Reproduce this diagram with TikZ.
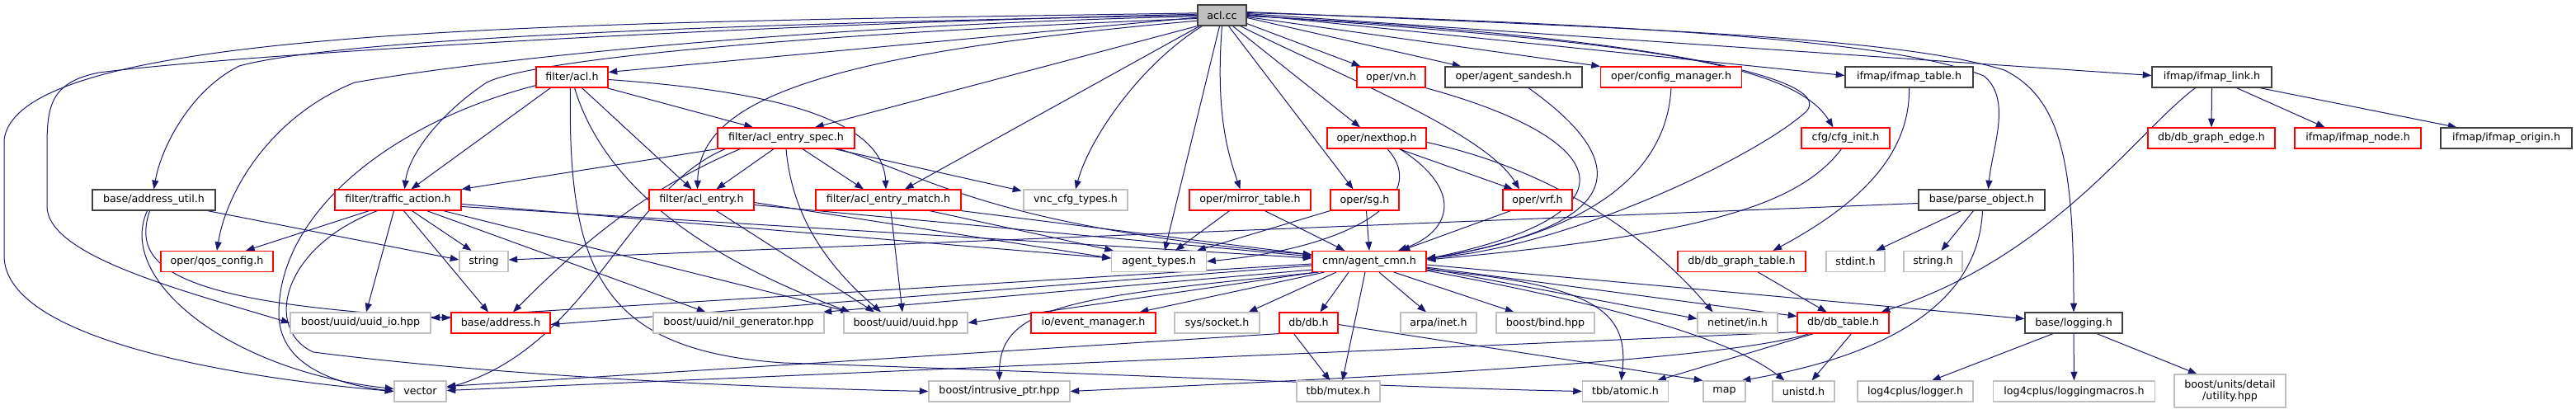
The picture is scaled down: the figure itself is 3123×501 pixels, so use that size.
\documentclass[tikz,border=0pt]{standalone}
\usepackage{fontspec}
\setmainfont{DejaVu Sans}
\usetikzlibrary{arrows.meta,calc}
\definecolor{edgec}{HTML}{191970}
\definecolor{nred}{HTML}{FF0000}
\definecolor{ngray}{HTML}{BFBFBF}
\definecolor{nblack}{HTML}{404040}
\pgfdeclarelayer{bgl}
\pgfdeclarelayer{edges}
\pgfsetlayers{bgl,edges,main}
\tikzset{
 box/.style={draw, rectangle, inner sep=0pt, minimum height=18.75pt, line width=0.9pt, fill=white, font=\fontsize{9.5}{11}\selectfont},
 rbox/.style={box, draw=nred},
 gbox/.style={box, draw=ngray},
 kbox/.style={box, draw=nblack},
 bw/.style={minimum width=#1*0.75pt},
 edg/.style={draw=edgec, line width=0.75pt, -{Triangle[length=8pt,width=6pt]}},
}
\begin{document}
\begin{tikzpicture}[x=0.75pt,y=-0.75pt]
\useasboundingbox (0,0) rectangle (3123,501);
\begin{pgfonlayer}{bgl}
\fill[white] (0,0) rectangle (3123,501);
\end{pgfonlayer}
% row 0
\node[kbox,fill=ngray,bw=59] (acl) at (1481.5,18.5) {acl.cc};
% row 1
\node[rbox,bw=87] (aclh) at (693.5,93.5) {filter/acl.h};
\node[rbox,bw=83] (vn) at (1686.5,93.5) {oper/vn.h};
\node[kbox,bw=166] (sand) at (1835,93.5) {oper/agent\_sandesh.h};
\node[rbox,bw=171] (cfgm) at (2026,93.5) {oper/config\_manager.h};
\node[kbox,bw=155] (ift) at (2314.5,93.5) {ifmap/ifmap\_table.h};
\node[kbox,bw=145] (ifl) at (2681.5,93.5) {ifmap/ifmap\_link.h};
% row 2
\node[rbox,bw=166] (spec) at (953,167.5) {filter/acl\_entry\_spec.h};
\node[rbox,bw=120] (nh) at (1669,167.5) {oper/nexthop.h};
\node[rbox,bw=107] (cfgi) at (2237.5,167.5) {cfg/cfg\_init.h};
\node[rbox,bw=154] (dge) at (2681,167.5) {db/db\_graph\_edge.h};
\node[rbox,bw=153] (ifn) at (2858.5,167.5) {ifmap/ifmap\_node.h};
\node[kbox,bw=159] (ifo) at (3038.5,167.5) {ifmap/ifmap\_origin.h};
% row 3
\node[kbox,bw=149] (autil) at (186.5,242.5) {base/address\_util.h};
\node[rbox,bw=153] (ta) at (482.5,242.5) {filter/traffic\_action.h};
\node[rbox,bw=127] (ae) at (850.5,242.5) {filter/acl\_entry.h};
\node[rbox,bw=176] (aem) at (1077,242.5) {filter/acl\_entry\_match.h};
\node[gbox,bw=126] (vnc) at (1304,242.5) {vnc\_cfg\_types.h};
\node[rbox,bw=147] (mir) at (1515.5,242.5) {oper/mirror\_table.h};
\node[rbox,bw=83] (sg) at (1654.5,242.5) {oper/sg.h};
\node[rbox,bw=84] (vrf) at (1864,242.5) {oper/vrf.h};
\node[kbox,bw=153] (po) at (2402.5,242.5) {base/parse\_object.h};
% row 4
\node[rbox,bw=136] (qos) at (263,317) {oper/qos\_config.h};
\node[gbox,bw=59] (str) at (586.5,317) {string};
\node[gbox,bw=115] (at) at (1405,317) {agent\_types.h};
\node[rbox,bw=138] (cmn) at (1660,317) {cmn/agent\_cmn.h};
\node[rbox,bw=155] (dgt) at (2111.5,317) {db/db\_graph\_table.h};
\node[gbox,bw=71] (stdint) at (2249.5,317) {stdint.h};
\node[gbox,bw=71] (strh) at (2343.5,317) {string.h};
% row 5
\node[gbox,bw=170] (uio) at (437,391.5) {boost/uuid/uuid\_io.hpp};
\node[rbox,bw=120] (addr) at (607,391.5) {base/address.h};
\node[gbox,bw=207] (nil) at (895.5,391.5) {boost/uuid/nil\_generator.hpp};
\node[gbox,bw=150] (uuid) at (1098,391.5) {boost/uuid/uuid.hpp};
\node[rbox,bw=151] (evm) at (1325.5,391.5) {io/event\_manager.h};
\node[gbox,bw=103] (sock) at (1475.5,391.5) {sys/socket.h};
\node[rbox,bw=71] (db) at (1586.5,391.5) {db/db.h};
\node[gbox,bw=92] (arpa) at (1744,391.5) {arpa/inet.h};
\node[gbox,bw=119] (bind) at (1873.5,391.5) {boost/bind.hpp};
\node[gbox,bw=97] (netin) at (2106.5,391.5) {netinet/in.h};
\node[rbox,bw=111] (dbt) at (2234.5,391.5) {db/db\_table.h};
\node[kbox,bw=118] (log) at (2514,391.5) {base/logging.h};
% row 6
\node[gbox,bw=63] (vec) at (509.5,474.5) {vector};
\node[gbox,bw=171] (iptr) at (1211.5,474.5) {boost/intrusive\_ptr.hpp};
\node[gbox,bw=101] (mutex) at (1622.5,474.5) {tbb/mutex.h};
\node[gbox,bw=104] (atomic) at (1970.5,474.5) {tbb/atomic.h};
\node[gbox,bw=51] (map) at (2090.5,474.5) {map};
\node[gbox,bw=75] (unistd) at (2186.5,474.5) {unistd.h};
\node[gbox,bw=140] (logger) at (2322,474.5) {log4cplus/logger.h};
\node[gbox,bw=196] (lmac) at (2514.5,474.5) {log4cplus/loggingmacros.h};
\node[gbox,bw=135,minimum height=30pt,align=center,font=\fontsize{9.5}{10.5}\selectfont] (units) at (2703.5,474) {boost/units/detail\\/utility.hpp};

\begin{pgfonlayer}{edges}
% acl.cc
\draw[edg] ([yshift=2pt]acl.west) .. controls (700,28) and (20,30) .. (5,170) -- (5,310) .. controls (5,420) and (330,462) .. (vec.west);
\draw[edg] ([yshift=1pt]acl.west) .. controls (900,30) and (300,65) .. (120,88) .. controls (60,100) and (57,130) .. (57,180) -- (57,250) .. controls (57,310) and (220,352) .. (uio.west);
\draw[edg] ([yshift=0pt]acl.west) .. controls (800,30) and (400,50) .. (290,80) .. controls (230,110) and (195,180) .. (autil.north);
\draw[edg] ([yshift=-1pt]acl.west) .. controls (1000,30) and (600,70) .. (430,100) .. controls (330,140) and (275,230) .. (qos.north);
\draw[edg] ([yshift=-3pt]acl.west) .. controls (1000,40) and (650,70) .. (590,100) .. controls (530,140) and (495,190) .. ($(ta.north)+(8,0)$);
\draw[edg] ([yshift=-2pt]acl.west) -- ($(aclh.east)+(0,-6)$);
\draw[edg] ([yshift=-5pt]acl.west) .. controls (1000,65) and (848,120) .. ($(ae.north)+(-5,0)$);
\draw[edg] (acl.south west) -- ($(spec.north)+(35,0)$);
\draw[edg] ($(acl.south west)+(3,0)$) -- ($(aem.north)+(20,0)$);
\draw[edg] ($(acl.south west)+(6,0)$) .. controls (1380,80) and (1320,170) .. (vnc.north);
\draw[edg] ($(acl.south)+(-3,0)$) -- ($(at.north)+(7,0)$);
\draw[edg] (acl.south) .. controls (1473,140) and (1490,190) .. ($(mir.north)+(-12,0)$);
\draw[edg] ($(acl.south)+(8,0)$) -- ($(sg.north)+(-14,0)$);
\draw[edg] ($(acl.south)+(13,0)$) -- ($(nh.north)+(-20,0)$);
\draw[edg] ($(acl.south east)+(-8,0)$) .. controls (1620,90) and (1800,160) .. ($(vrf.north)+(-22,0)$);
\draw[edg] ($(acl.south east)+(0,-3)$) -- ($(vn.north west)+(5,0)$);
\draw[edg] ($(acl.east)+(0,3)$) -- ($(sand.north west)+(20,0)$);
\draw[edg] ($(acl.east)+(0,2)$) -- (cfgm.north west);
\draw[edg] ($(acl.east)+(0,1)$) .. controls (1950,40) and (2230,90) .. (2190,135) .. controls (2130,190) and (1900,300) .. ($(cmn.east)+(0,-4)$);
\draw[edg] ($(acl.east)+(0,0)$) .. controls (1950,50) and (2170,70) .. ($(cfgi.north)+(-15,0)$);
\draw[edg] ($(acl.east)+(0,-1)$) -- ($(ift.west)+(0,-2)$);
\draw[edg] ($(acl.east)+(0,-2)$) -- ($(ifl.west)+(0,-2)$);
\draw[edg] ($(acl.east)+(0,-3)$) .. controls (2000,30) and (2300,50) .. (2405,92) .. controls (2440,120) and (2415,180) .. ($(po.north)+(8,0)$);
\draw[edg] ($(acl.east)+(0,-4)$) .. controls (2000,35) and (2300,45) .. (2430,85) .. controls (2500,120) and (2514,200) .. (log.north);
% address_util
\draw[edg] ($(autil.south east)+(-10,0)$) -- ($(str.west)+(0,-2)$);
\draw[edg] ($(autil.south)+(-5,0)$) .. controls (160,320) and (200,368) .. ($(addr.west)+(0,-6)$);
\draw[edg] ($(autil.south)+(-8,0)$) .. controls (140,340) and (280,450) .. ($(vec.west)+(0,-3)$);
% filter/acl.h
\draw[edg] ($(aclh.south west)+(0,-3)$) .. controls (470,150) and (338,260) .. (338,380) .. controls (338,440) and (400,465) .. (vec.west);
\draw[edg] ($(aclh.south west)+(18,0)$) -- ($(ta.north)+(16,0)$);
\draw[edg] ($(aclh.south)+(-2,0)$) .. controls (688,330) and (730,425) .. (950,440) .. controls (1400,455) and (1700,470) .. (atomic.west);
\draw[edg] ($(aclh.south)+(3,0)$) .. controls (740,250) and (900,330) .. ($(uuid.north west)+(8,0)$);
\draw[edg] ($(aclh.south)+(12,0)$) -- ($(ae.north)+(-12,0)$);
\draw[edg] ($(aclh.south east)+(-2,0)$) -- ($(spec.north)+(-40,0)$);
\draw[edg] ($(aclh.east)+(0,3)$) .. controls (900,108) and (1070,135) .. ($(aem.north)+(-3,0)$);
% acl_entry_spec
\draw[edg] (spec.south west) -- (ta.north east);
\draw[edg] ($(spec.south west)+(10,0)$) .. controls (760,230) and (715,420) .. ($(vec.east)+(0,-4)$);
\draw[edg] ($(spec.south west)+(28,0)$) .. controls (780,230) and (700,300) .. ($(addr.north)+(15,0)$);
\draw[edg] ($(spec.south)+(-15,0)$) -- ($(ae.north)+(18,0)$);
\draw[edg] (spec.south) .. controls (960,260) and (1000,320) .. ($(uuid.north)+(-30,0)$);
\draw[edg] ($(spec.south)+(20,0)$) -- ($(aem.north)+(-30,0)$);
\draw[edg] ($(spec.south east)+(-25,0)$) -- ($(vnc.north west)+(-2,2)$);
\draw[edg] ($(spec.south east)+(-20,0)$) .. controls (1130,215) and (1200,275) .. ($(cmn.west)+(0,-8)$);
% acl_entry
\draw[edg] ($(ae.south)+(18,0)$) -- ($(uuid.north)+(-38,0)$);
\draw[edg] ($(ae.east)+(0,3)$) -- ($(at.west)+(0,-4)$);
\draw[edg] ($(ae.east)+(0,6)$) -- ($(cmn.west)+(0,-6)$);
% acl_entry_match
\draw[edg] ($(aem.south)+(3,0)$) -- ($(uuid.north)+(-4,0)$);
\draw[edg] ($(aem.south)+(50,0)$) -- ($(at.north west)+(3,0)$);
\draw[edg] (aem.south east) -- ($(cmn.west)+(0,-8)$);
% traffic_action
\draw[edg] ($(ta.south)+(-35,0)$) -- ($(qos.north)+(35,0)$);
\draw[edg] ($(ta.south)+(-25,0)$) .. controls (340,300) and (320,400) .. (380,427) .. controls (600,455) and (900,470) .. (iptr.west);
\draw[edg] ($(ta.south)+(-5,0)$) -- ($(uio.north)+(7,0)$);
\draw[edg] ($(ta.south)+(7,0)$) -- ($(addr.north)+(-15,0)$);
\draw[edg] ($(ta.south)+(17,0)$) -- ($(str.north)+(-15,0)$);
\draw[edg] ($(ta.south)+(35,0)$) -- ($(nil.north)+(-40,0)$);
\draw[edg] ($(ta.south)+(55,0)$) -- ($(uuid.north west)+(8,0)$);
\draw[edg] ($(ta.east)+(0,5)$) -- ($(at.west)+(0,-4)$);
\draw[edg] ($(ta.east)+(0,8)$) -- ($(cmn.west)+(0,-4)$);
% mirror, sg
\draw[edg] ($(mir.south)+(-25,0)$) -- ($(at.north)+(20,0)$);
\draw[edg] ($(mir.south)+(18,0)$) -- ($(cmn.north west)+(40,0)$);
\draw[edg] (sg.south west) -- ($(at.north east)+(-12,0)$);
\draw[edg] ($(sg.south)+(2,0)$) -- (cmn.north);
% nexthop
\draw[edg] ($(nh.south)+(13,0)$) .. controls (1735,240) and (1640,300) .. (at.east);
\draw[edg] ($(nh.south)+(28,0)$) .. controls (1775,230) and (1760,280) .. ($(cmn.north)+(35,0)$);
\draw[edg] ($(nh.south)+(27,0)$) -- ($(vrf.north)+(-30,0)$);
\draw[edg] ($(nh.east)+(0,5)$) .. controls (1900,210) and (2010,300) .. ($(netin.north)+(-30,0)$);
% vrf, vn, sandesh, config, cfg_init
\draw[edg] ($(vrf.south west)+(10,0)$) -- ($(cmn.north east)+(-31,0)$);
\draw[edg] (vn.south east) .. controls (1960,170) and (1990,260) .. ($(cmn.east)+(0,-3)$);
\draw[edg] ($(sand.south)+(18,0)$) .. controls (1970,190) and (1990,270) .. ($(cmn.east)+(0,-3)$);
\draw[edg] (cfgm.south) .. controls (2020,220) and (1910,285) .. ($(cmn.east)+(0,-3)$);
\draw[edg] ($(cfgi.south)+(-5,0)$) .. controls (2180,250) and (2060,285) .. ($(cmn.east)+(0,-2)$);
% ifmap_table, db_graph_table
\draw[edg] (ift.south) .. controls (2316,190) and (2250,250) .. ($(dgt.north)+(38,0)$);
\draw[edg] ($(dgt.south)+(20,0)$) -- ($(dbt.north)+(-20,0)$);
% parse_object
\draw[edg] ($(po.west)+(0,4)$) -- ($(str.east)+(0,-2)$);
\draw[edg] ($(po.south)+(-25,0)$) -- ($(stdint.north)+(25,0)$);
\draw[edg] ($(po.south)+(-10,0)$) -- ($(strh.north)+(10,0)$);
\draw[edg] ($(po.south)+(1,0)$) .. controls (2400,330) and (2350,420) .. ($(map.north east)+(-5,0)$);
% ifmap_link
\draw[edg] ($(ifl.south)+(-20,0)$) .. controls (2590,160) and (2490,310) .. ($(dbt.north east)+(-10,0)$);
\draw[edg] (ifl.south) -- (dge.north);
\draw[edg] ($(ifl.south)+(30,0)$) -- ($(ifn.north)+(-40,0)$);
\draw[edg] ($(ifl.south east)+(-15,0)$) -- ($(ifo.north)+(-60,0)$);
% logging
\draw[edg] ($(log.south)+(-25,0)$) -- ($(logger.north)+(20,0)$);
\draw[edg] (log.south) -- (lmac.north);
\draw[edg] ($(log.south)+(28,0)$) -- ($(units.north)+(-40,0)$);
% db_table
\draw[edg] ($(dbt.south)+(10,0)$) -- ($(unistd.north)+(10,0)$);
\draw[edg] ($(dbt.south west)+(15,0)$) .. controls (2080,440) and (1600,460) .. (iptr.east);
\draw[edg] ($(dbt.south west)+(0,-2)$) -- ($(vec.east)+(0,-1)$);
\draw[edg] ($(dbt.south west)+(20,0)$) -- ($(atomic.north east)+(-14,0)$);
% db/db.h
\draw[edg] ($(db.south)+(-18,0)$) -- ($(mutex.north)+(-10,0)$);
\draw[edg] ($(db.east)+(0,2)$) -- (map.north west);
\draw[edg] (db.south west) -- ($(vec.east)+(0,-6)$);
% agent_cmn
\draw[edg] ($(cmn.west)+(0,3)$) -- ($(uio.east)+(0,-6)$);
\draw[edg] ($(cmn.west)+(0,5)$) -- ($(addr.east)+(0,2)$);
\draw[edg] ($(cmn.south west)+(0,-3)$) -- ($(nil.north east)+(-2,0)$);
\draw[edg] ($(cmn.south west)+(5,0)$) -- (uuid.east);
\draw[edg] ($(cmn.south west)+(8,0)$) .. controls (1300,360) and (1212,370) .. (iptr.north);
\draw[edg] ($(cmn.south west)+(15,0)$) -- ($(evm.north east)+(-20,0)$);
\draw[edg] ($(cmn.south)+(-40,0)$) -- ($(sock.north east)+(-14,0)$);
\draw[edg] ($(cmn.south)+(-25,0)$) -- ($(db.north)+(14,0)$);
\draw[edg] ($(cmn.south)+(-5,0)$) -- ($(mutex.north)+(5,0)$);
\draw[edg] ($(cmn.south)+(12,0)$) -- ($(arpa.north)+(-15,0)$);
\draw[edg] ($(cmn.south)+(30,0)$) -- ($(bind.north)+(-38,0)$);
\draw[edg] ($(cmn.south east)+(0,-3)$) .. controls (1940,345) and (1975,380) .. ($(atomic.north)+(-5,0)$);
\draw[edg] ($(cmn.south east)+(0,-5)$) -- ($(netin.west)+(0,-5)$);
\draw[edg] ($(cmn.south east)+(0,-6)$) -- ($(dbt.west)+(0,-8)$);
\draw[edg] ($(cmn.south east)+(0,-2)$) .. controls (2000,378) and (2110,420) .. ($(unistd.north)+(-23,0)$);
\draw[edg] ($(cmn.east)+(0,4)$) -- ($(log.west)+(0,-5)$);
\end{pgfonlayer}
\end{tikzpicture}
\end{document}
